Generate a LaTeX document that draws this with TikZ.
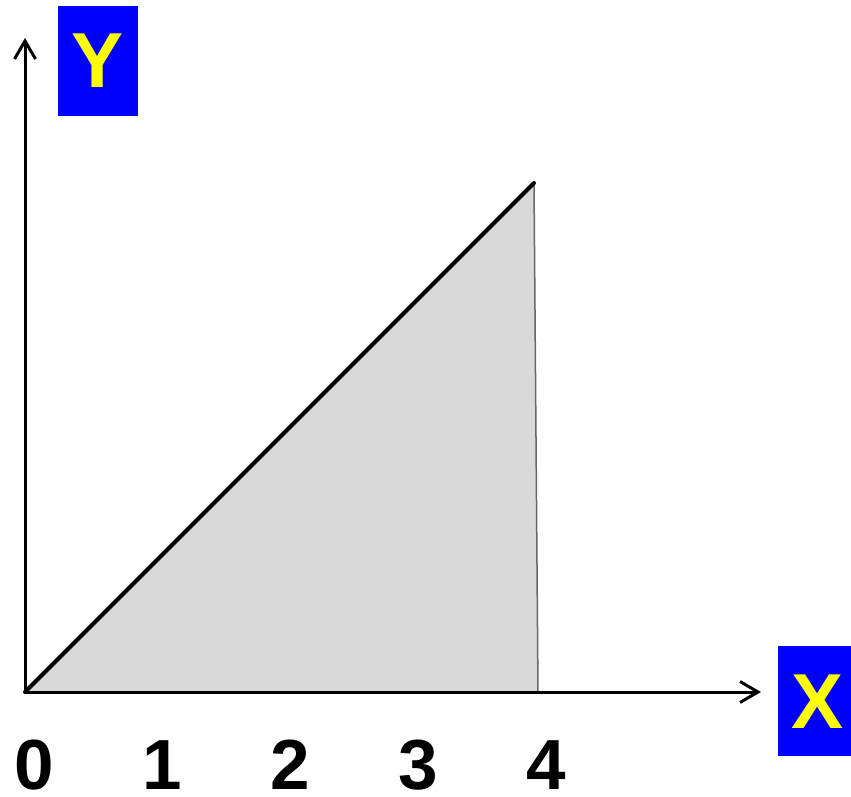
\documentclass[tikz,border=0pt]{standalone}
\usepackage{fontspec}
\setmainfont{Liberation Sans}
\usetikzlibrary{arrows.meta}
\definecolor{fillgray}{HTML}{D9D9D9}
\definecolor{boxblue}{HTML}{0000FF}
\definecolor{lblyellow}{HTML}{FFFF00}
\begin{document}
\begin{tikzpicture}[x=1pt,y=-1pt,
  axis/.style={line width=3pt,-{Straight Barb[length=18pt,width=21pt,line width=3pt]}},
  lblbox/.style={fill=boxblue,inner sep=0pt,anchor=north west},
  lbltext/.style={text=lblyellow,font=\fontsize{78}{78}\bfseries\selectfont,anchor=base,inner sep=0pt},
  tick/.style={font=\fontsize{71}{71}\bfseries\selectfont,anchor=base,inner sep=0pt}]
\useasboundingbox (0,0) rectangle (851,797);
\coordinate (O) at (25,692);
\coordinate (T) at (534,183);
\coordinate (B) at (538,692);
\coordinate (YT) at (25,38);
\coordinate (XT) at (761,692);
\fill[fillgray] (O) -- (T) -- (B) -- cycle;
\draw[line width=1.5pt,color=black!60] (T) -- (B);
\draw[axis] (O) -- (YT);
\draw[axis] (O) -- (XT);
\draw[line width=4pt,line cap=round] (O) -- (T);
\node[lblbox,minimum width=80pt,minimum height=110pt] (ylbl) at (58,6) {};
\node[lbltext] (ytxt) at (98,88) {Y};
\node[lblbox,minimum width=73pt,minimum height=110pt] (xlbl) at (778,646) {};
\node[lbltext] (xtxt) at (818,728) {X};
\node[tick] (n0) at (34,789) {0};
\node[tick] (n1) at (162,789) {1};
\node[tick] (n2) at (290,789) {2};
\node[tick] (n3) at (418,789) {3};
\node[tick] (n4) at (546,789) {4};
\end{tikzpicture}
\end{document}
